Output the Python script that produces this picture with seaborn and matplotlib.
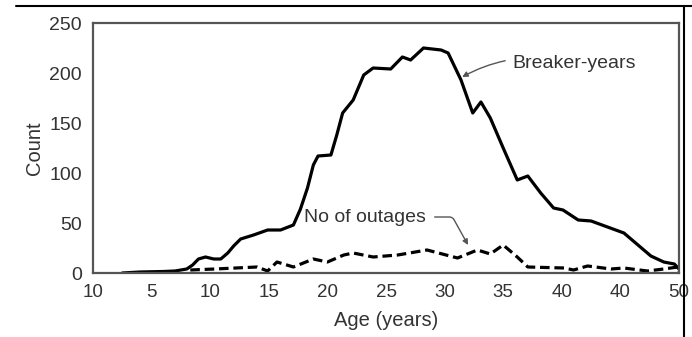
import matplotlib
matplotlib.use("Agg")
import matplotlib.pyplot as plt
from matplotlib.lines import Line2D
import seaborn as sns
import pandas as pd

# Breaker-years curve
breaker_age = [2.5, 4.0, 6.0, 7.0, 8.0, 8.5, 9.0, 9.6, 10.3, 10.9, 11.5, 12.0, 12.6, 13.7,
               14.9, 16.0, 17.1, 17.7, 18.3, 18.8, 19.2, 20.3, 20.8, 21.3, 22.2, 23.1,
               23.9, 25.4, 26.4, 27.1, 28.2, 29.7, 30.3, 31.4, 32.4, 33.1, 33.9, 35.0,
               36.2, 37.1, 38.2, 39.3, 40.1, 41.4, 42.5, 43.9, 45.3, 46.2, 47.6, 48.7,
               49.6, 50.0]
breaker_count = [0, 1, 1.5, 2, 4, 8, 14, 16, 14, 14, 20, 27, 34, 38,
                 43, 43, 48, 64, 85, 108, 117, 118, 138, 160, 173, 198,
                 205, 204, 216, 213, 225, 223, 220, 193, 160, 171, 155, 125,
                 93, 97, 80, 65, 63, 53, 52, 46, 40, 31, 17, 11,
                 9, 4]

# No of outages curve
outage_age = [8.3, 10.4, 14.0, 14.9, 15.7, 17.1, 18.8, 20.0, 21.4, 22.2, 23.9, 26.0,
              28.5, 31.1, 32.8, 33.9, 35.0, 36.2, 37.1, 40.2, 41.0, 42.2, 44.2, 45.3,
              47.3, 48.7, 49.9, 50.0]
outage_count = [3, 4, 6, 2, 11, 6, 14, 11, 18, 20, 16, 18,
                23, 15, 23, 19, 28, 16, 6, 5, 3, 7, 4, 5,
                2, 4, 6, 1]

tick_pos = [0, 5, 10, 15, 20, 25, 30, 35, 40, 45, 50]
tick_labels = ["10", "5", "10", "15", "20", "25", "30", "35", "40", "40", "50"]
ytick_pos = [0, 50, 100, 150, 200, 250]

sns.set_style("white")
plt.rcParams['font.family'] = ['Liberation Sans', 'DejaVu Sans']

fig = plt.figure(figsize=(6.92, 3.37), dpi=100)
ax = fig.add_axes([93/692, 1-273/337, (679-93)/692, (273-23)/337])

df_b = pd.DataFrame({"age": breaker_age, "count": breaker_count})
df_o = pd.DataFrame({"age": outage_age, "count": outage_count})
sns.lineplot(data=df_b, x="age", y="count", ax=ax, color="black", linewidth=2.3)
sns.lineplot(data=df_o, x="age", y="count", ax=ax, color="black", linewidth=2.3,
             linestyle=(0, (3, 1.5)))

ax.set_xlim(0, 50)
ax.set_ylim(0, 250)
ax.set_xticks(tick_pos)
ax.set_xticklabels(tick_labels)
ax.set_yticks(ytick_pos)
ax.tick_params(direction="in", length=7, width=1, color="#777777",
               labelcolor="#333333")
ax.tick_params(axis="x", labelsize=13.5, pad=8)
ax.tick_params(axis="y", labelsize=14, pad=8)
ax.set_xlabel("Age (years)", fontsize=14.5, color="#333333", labelpad=7)
ax.set_ylabel("Count", fontsize=14.5, color="#333333", labelpad=4)
for s in ax.spines.values():
    s.set_color("#555555")
    s.set_linewidth(1.6)

ax.annotate("Breaker-years", xy=(31.5, 196), xytext=(35.8, 210),
            fontsize=14, color="#333333", va="center", ha="left",
            arrowprops=dict(arrowstyle="-|>", color="#555555", lw=1.0,
                            connectionstyle="arc3,rad=0.2", shrinkA=3, shrinkB=0,
                            mutation_scale=8))
ax.annotate("No of outages", xy=(32.0, 28), xytext=(18.0, 56),
            fontsize=14, color="#333333", va="center", ha="left",
            arrowprops=dict(arrowstyle="-|>", color="#555555", lw=1.0,
                            connectionstyle="angle,angleA=0,angleB=119,rad=3",
                            shrinkA=4, shrinkB=0, mutation_scale=8))

fig.add_artist(Line2D([16/692, 1.0], [1-6/337, 1-6/337], color="black", lw=1.5,
                      transform=fig.transFigure))
fig.add_artist(Line2D([684/692, 684/692], [0, 1-6/337], color="black", lw=1.5,
                      transform=fig.transFigure))

fig.savefig("out.png", dpi=100)
